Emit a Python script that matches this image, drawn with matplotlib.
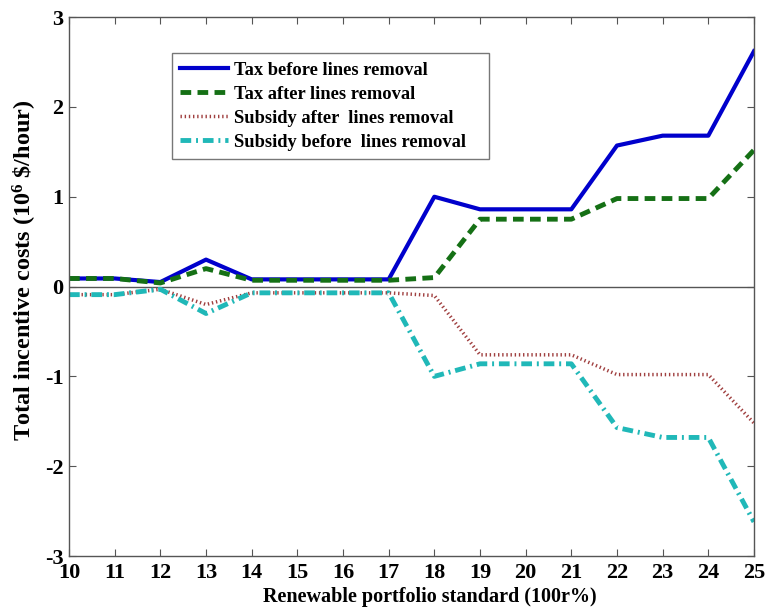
import matplotlib
matplotlib.use("Agg")
import matplotlib.pyplot as plt

x = list(range(10, 26))
tax_before = [0.09, 0.09, 0.05, 0.30, 0.08, 0.08, 0.08, 0.08, 1.00, 0.86, 0.86, 0.86, 1.57, 1.68, 1.68, 2.62]
tax_after = [0.09, 0.09, 0.04, 0.20, 0.07, 0.07, 0.07, 0.07, 0.10, 0.75, 0.75, 0.75, 0.98, 0.98, 0.98, 1.52]
sub_after = [-0.09, -0.09, -0.03, -0.20, -0.07, -0.07, -0.07, -0.07, -0.10, -0.76, -0.76, -0.76, -0.98, -0.98, -0.98, -1.52]
sub_before = [-0.09, -0.09, -0.03, -0.30, -0.07, -0.07, -0.07, -0.07, -1.00, -0.86, -0.86, -0.86, -1.57, -1.68, -1.68, -2.62]

plt.rcParams['font.family'] = ['Liberation Serif', 'DejaVu Serif']
plt.rcParams['font.weight'] = 'bold'
plt.rcParams['axes.unicode_minus'] = False
plt.rcParams['mathtext.fontset'] = 'custom'
plt.rcParams['mathtext.rm'] = 'Liberation Serif:bold'
plt.rcParams['mathtext.default'] = 'rm'

fig = plt.figure(figsize=(7.67, 6.11), dpi=100)
ax = fig.add_axes([0.090, 0.090, 0.893, 0.882])

ax.axhline(0, color='#555555', lw=1.0, zorder=1)
ax.plot(x, tax_before, color='#0000cc', lw=3, label='Tax before lines removal')
ax.plot(x, tax_after, color='#157015', lw=3.5, ls=(0, (2.2, 1.3)), label='Tax after lines removal')
ax.plot(x, sub_after, color='#a04040', lw=2.5, ls=(0, (0.4, 0.8)), label='Subsidy after  lines removal')
ax.plot(x, sub_before, color='#20b8b8', lw=3.5, ls=(0, (2.2, 1.0, 0.4, 1.0)), label='Subsidy before  lines removal')

ax.set_xlim(10, 25)
ax.set_ylim(-3, 3)
ax.set_xticks(x)
ax.set_yticks([-3, -2, -1, 0, 1, 2, 3])
ax.tick_params(direction='in', top=True, right=True, length=5, width=0.8, color='#555555')
ax.tick_params(axis='x', labelsize=16, pad=5)
ax.tick_params(axis='y', labelsize=16, pad=4)
for lab in ax.get_xticklabels() + ax.get_yticklabels():
    lab.set_fontweight('bold')
for s in ax.spines.values():
    s.set_color('#555555')
    s.set_linewidth(1.0)

ax.set_xlabel('Renewable portfolio standard (100r%)', fontsize=14.5, fontweight='bold')
ax.xaxis.set_label_coords(0.527, -0.057)
ax.set_ylabel(r'Total incentive costs (10$^{6}$ \$/hour)', fontsize=17.5, fontweight='bold')
ax.yaxis.set_label_coords(-0.044, 0.53)

leg = ax.legend(loc='upper left', bbox_to_anchor=(0.150, 0.738, 0.463, 0.195), mode='expand',
                frameon=True, fancybox=False, edgecolor='#555555', handlelength=2.6,
                handletextpad=0.3, labelspacing=0.38, borderpad=0.45, borderaxespad=0.0,
                prop={'weight': 'bold', 'size': 13.3})
leg.get_frame().set_linewidth(1.0)

fig.savefig('out.png', dpi=100)
